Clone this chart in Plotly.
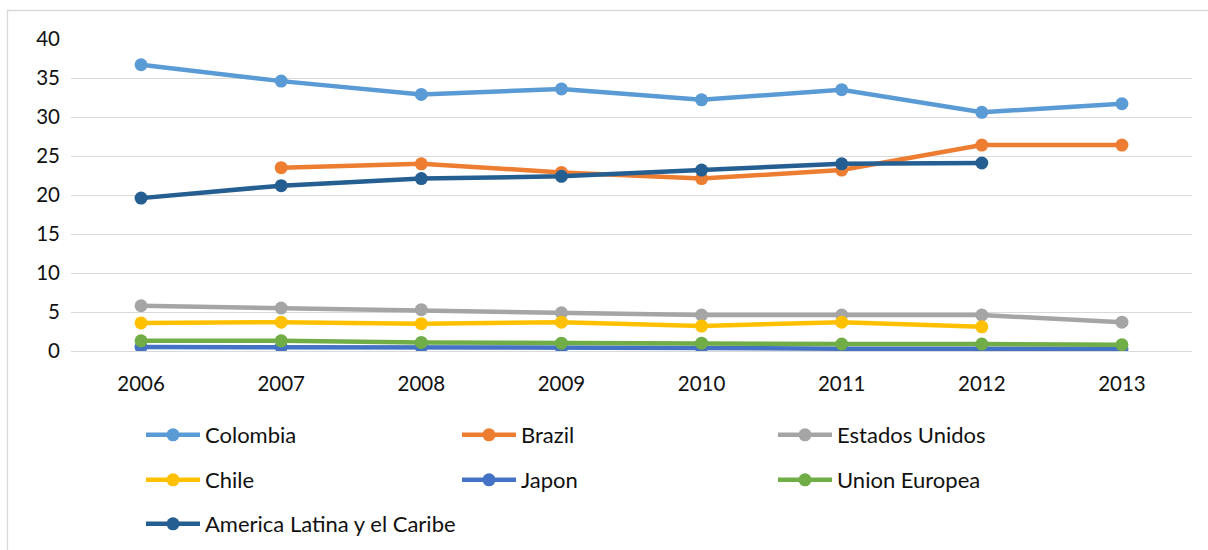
import plotly.graph_objects as go

years = ["2006", "2007", "2008", "2009", "2010", "2011", "2012", "2013"]

colombia = [36.7, 34.6, 32.9, 33.6, 32.2, 33.5, 30.6, 31.7]
brazil = [None, 23.5, 24.0, 22.9, 22.1, 23.2, 26.4, 26.4]
estados_unidos = [5.8, 5.5, 5.3, 4.9, 4.6, 4.6, 4.6, 3.7]
chile = [3.6, 3.7, 3.5, 3.7, 3.2, 3.7, 3.1, None]
japon = [0.5, 0.5, 0.5, 0.4, 0.4, 0.3, 0.3, 0.3]
union_europea = [1.3, 1.3, 1.1, 1.0, 1.0, 0.9, 0.9, 0.8]
america_latina = [19.6, 21.2, 22.1, 22.4, 23.2, 24.0, 24.1, None]

series = [
    ("Colombia", colombia, "#5B9BD5"),
    ("Brazil", brazil, "#ED7D31"),
    ("Estados Unidos", estados_unidos, "#A5A5A5"),
    ("Chile", chile, "#FFC000"),
    ("Japon", japon, "#4472C4"),
    ("Union Europea", union_europea, "#70AD47"),
    ("America Latina y el Caribe", america_latina, "#255E91"),
]

FONT = "Lato, 'Open Sans', sans-serif"
W, H = 1208, 550

# legend grid: three columns, three rows (pixel positions of each entry)
legend_cols = [141, 457, 773]
legend_rows = [435, 480, 524]

fig = go.Figure()
legend_layouts = {}
for i, (name, vals, color) in enumerate(series):
    key = "legend" if i == 0 else f"legend{i + 1}"
    fig.add_trace(go.Scatter(
        x=years, y=vals, name=name, mode="lines+markers",
        line=dict(color=color, width=4.5),
        marker=dict(color=color, size=13, line=dict(width=0)),
        legend=key,
    ))
    col, row = i % 3, i // 3
    legend_layouts[key] = dict(
        xref="container", yref="container",
        x=legend_cols[col] / W, y=1 - legend_rows[row] / H,
        xanchor="left", yanchor="middle",
        orientation="h", itemwidth=54,
        font=dict(family=FONT, size=22, color="#111111"),
        bgcolor="rgba(0,0,0,0)", borderwidth=0,
        itemclick=False, itemdoubleclick=False,
    )

# plot area in pixels: x 71..1192, y 39..351
L, R, T, B = 71, 16, 39, 199
pw, ph = W - L - R, H - T - B

def px_x(p):
    return (p - L) / pw

def px_y(p):
    return (H - B - p) / ph

fig.update_layout(
    width=W, height=H,
    margin=dict(l=L, r=R, t=T, b=B, autoexpand=False),
    paper_bgcolor="white", plot_bgcolor="white",
    font=dict(family=FONT, size=20, color="#111111"),
    showlegend=True,
    xaxis=dict(
        type="category", range=[-0.5, 7.5],
        showgrid=False, showline=False, zeroline=False,
        ticks="", ticklabelstandoff=18,
        tickfont=dict(family=FONT, size=20.5, color="#111111"),
    ),
    yaxis=dict(
        range=[0, 40], dtick=5, tick0=0,
        showgrid=True, gridcolor="#D9D9D9", gridwidth=1.3,
        zeroline=True, zerolinecolor="#D9D9D9", zerolinewidth=1.3,
        showline=False, ticks="", ticklabelstandoff=10,
        tickfont=dict(family=FONT, size=20.5, color="#111111"),
    ),
    shapes=[dict(
        type="rect", xref="paper", yref="paper", layer="below",
        x0=px_x(7.5), x1=px_x(1240), y0=px_y(600), y1=px_y(10.5),
        line=dict(color="#D9D9D9", width=1.3), fillcolor="rgba(0,0,0,0)",
    )],
    **legend_layouts,
)

fig.write_html("out.html")
